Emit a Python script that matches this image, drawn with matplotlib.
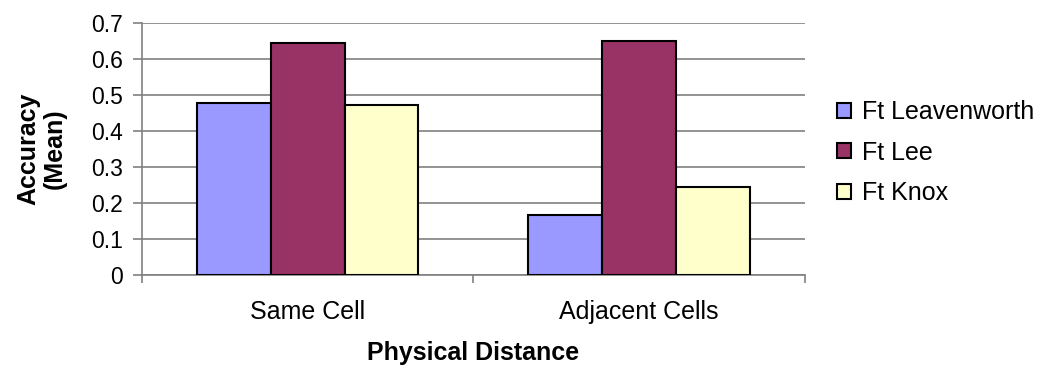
import matplotlib.pyplot as plt
import numpy as np

plt.rcParams['font.family'] = ['Liberation Sans', 'DejaVu Sans']

categories = ['Same Cell', 'Adjacent Cells']
series = ['Ft Leavenworth', 'Ft Lee', 'Ft Knox']
leavenworth = [0.479, 0.167]
lee = [0.645, 0.651]
knox = [0.473, 0.245]
colors = ['#9999FF', '#993366', '#FFFFCC']
yticks = [0, 0.1, 0.2, 0.3, 0.4, 0.5, 0.6, 0.7]

fig = plt.figure(figsize=(10.45, 3.74), dpi=100)
ax = fig.add_axes([0.1359, 0.2647, 0.634, 0.6738])

x = np.arange(len(categories)) + 0.5
w = 0.223
for i, (vals, name) in enumerate(zip([leavenworth, lee, knox], series)):
    ax.bar(x + (i - 1) * w, vals, width=w, color=colors[i], edgecolor='black',
           linewidth=1.5, label=name, zorder=3)

ax.set_xlim(0, 2)
ax.set_ylim(0, 0.7)
ax.set_yticks(yticks)
ax.set_yticklabels(['0', '0.1', '0.2', '0.3', '0.4', '0.5', '0.6', '0.7'], fontsize=16.5)
ax.yaxis.grid(True, color='#808080', linewidth=1.2, zorder=0)

# category ticks sit between groups, labels in the middle
ax.set_xticks([0, 1, 2])
ax.set_xticklabels([])
ax.set_xticks(x, minor=True)
ax.set_xticklabels(categories, minor=True, fontsize=18)
ax.tick_params(axis='x', which='minor', length=0, pad=18)
ax.tick_params(axis='x', which='major', length=6, color='#808080', width=1.2)
ax.tick_params(axis='y', length=6.5, color='#808080', width=1.2, pad=7)

for s in ['top', 'right']:
    ax.spines[s].set_visible(False)
for s in ['left', 'bottom']:
    ax.spines[s].set_color('#808080')
    ax.spines[s].set_linewidth(1.2)

ax.set_xlabel('Physical Distance', fontsize=18, fontweight='bold', va='center')
ax.xaxis.set_label_coords(0.5, -0.31)
ax.set_ylabel('Accuracy\n(Mean)', fontsize=18, fontweight='bold', va='center',
              linespacing=1.1)
ax.yaxis.set_label_coords(-0.152, 0.5)

fig.legend(loc='center left', bbox_to_anchor=(0.801, 0.592), frameon=False,
           fontsize=18, borderpad=0, borderaxespad=0, handlelength=0.56,
           handleheight=0.56, handletextpad=0.45, labelspacing=0.66)

fig.savefig('out.png', dpi=100)
